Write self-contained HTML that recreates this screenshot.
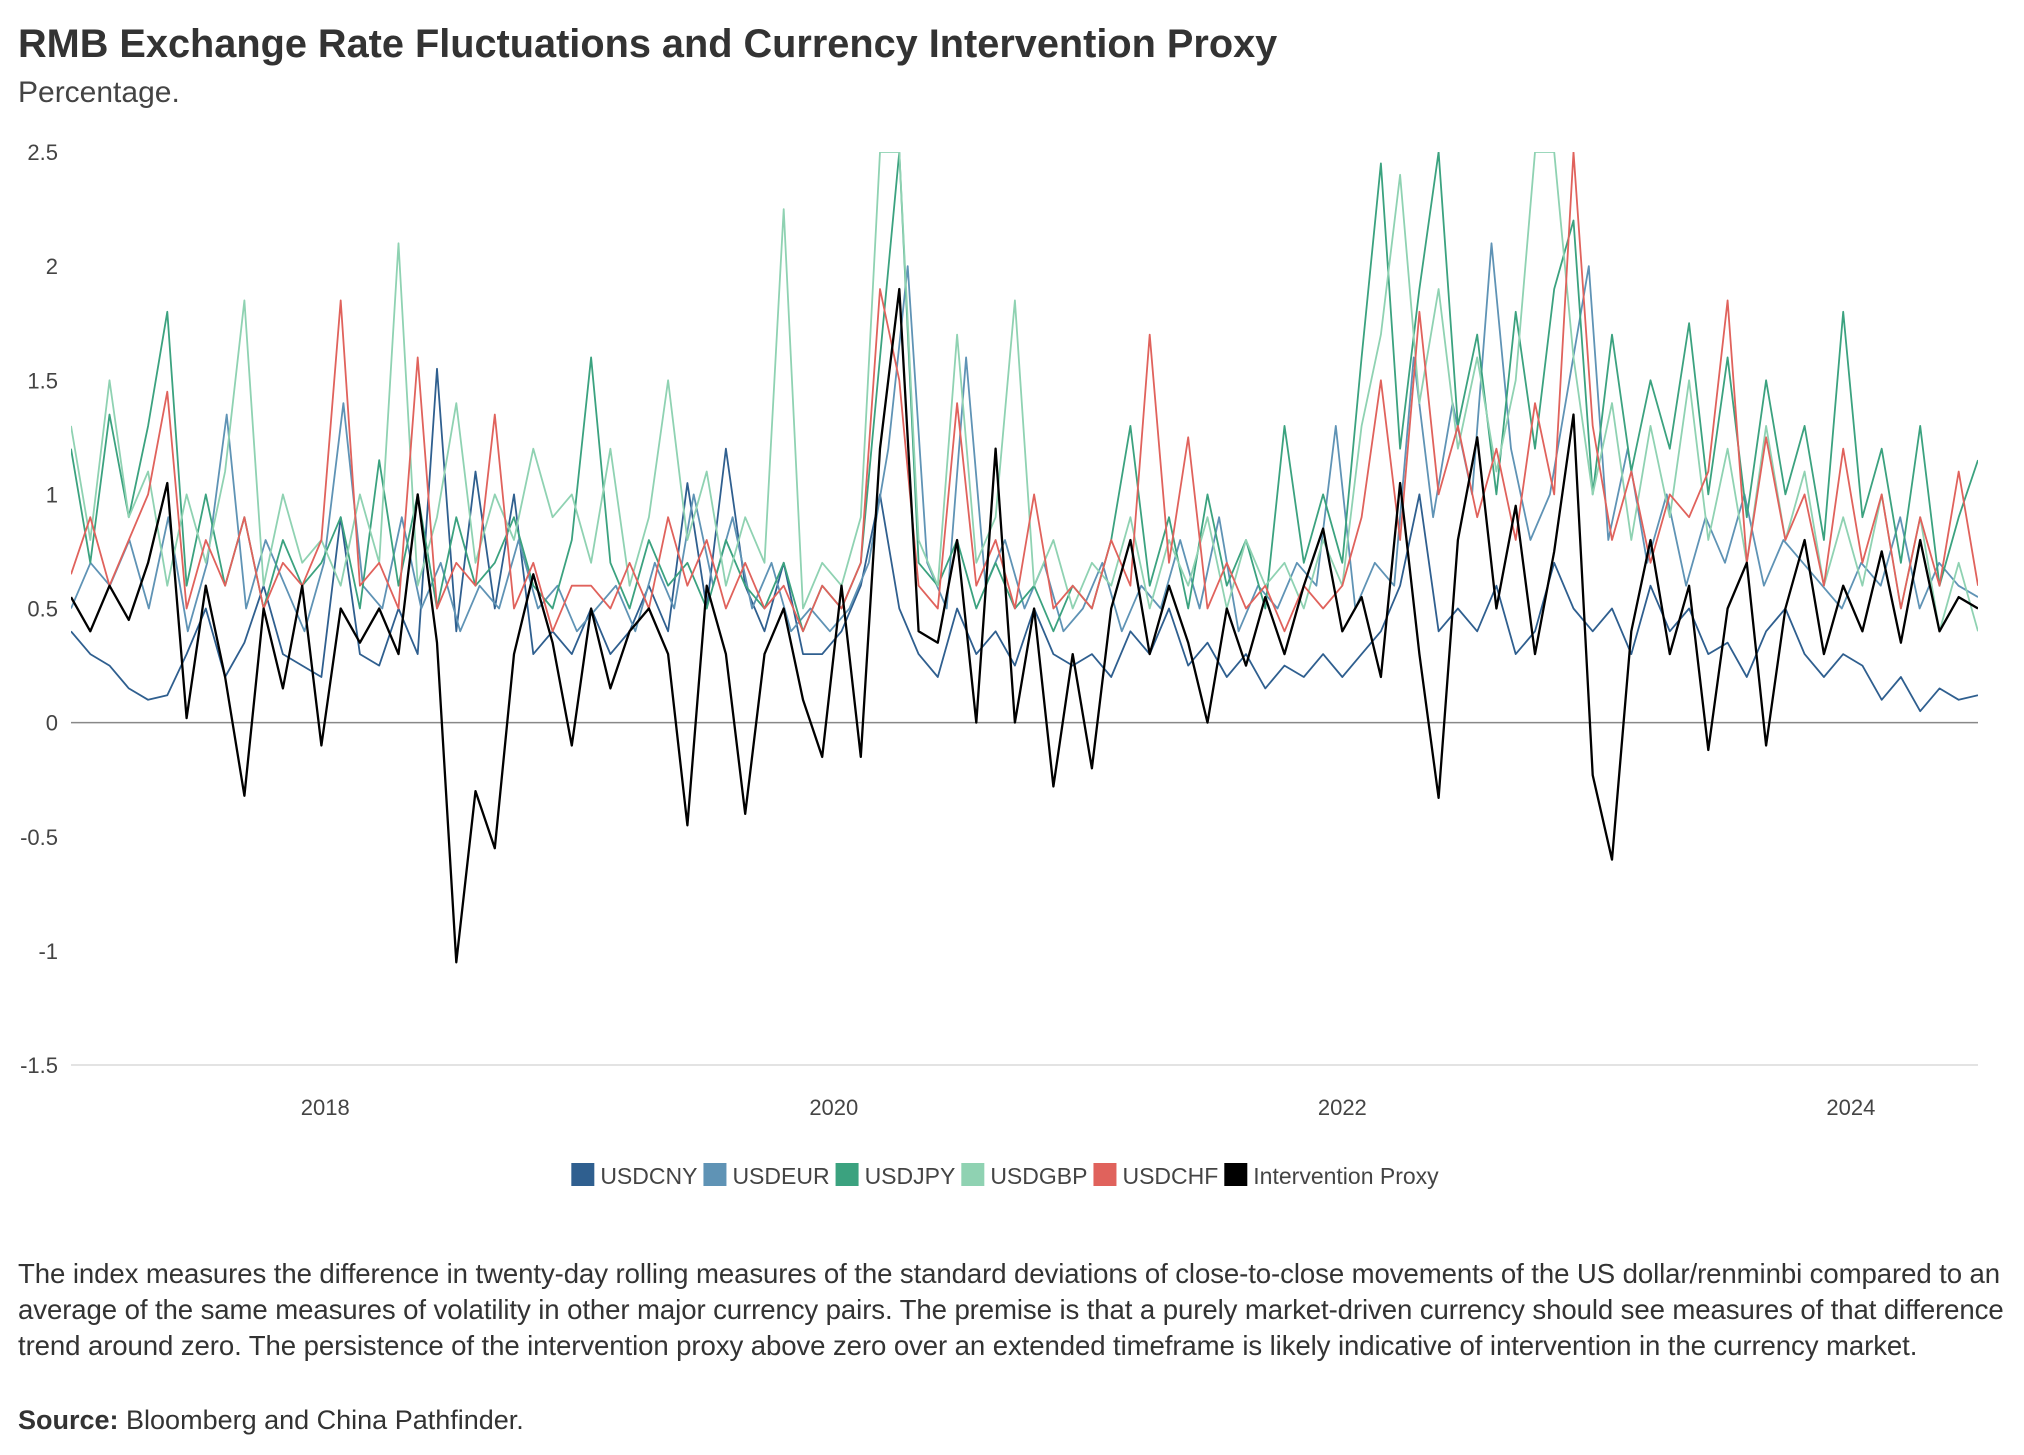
<!DOCTYPE html>
<html><head><meta charset="utf-8"><style>
body{margin:0;background:#fff;font-family:"Liberation Sans",sans-serif;color:#333}
#wrap{position:relative;width:2024px;height:1455px;overflow:hidden}
.t{position:absolute;white-space:nowrap}
</style></head><body>
<div id="wrap">
<div class="t" style="left:18px;top:22px;font-size:39.7px;font-weight:bold;color:#333">RMB Exchange Rate Fluctuations and Currency Intervention Proxy</div>
<div class="t" style="left:18px;top:76px;font-size:30px;color:#444">Percentage.</div>
<svg id="chart" width="2024" height="1455" style="position:absolute;left:0;top:0"></svg>
<div class="t" style="left:18px;top:1256px;font-size:27.6px;line-height:36px;color:#333;letter-spacing:-0.1px">The index measures the difference in twenty-day rolling measures of the standard deviations of close-to-close movements of the US dollar/renminbi compared to an<br>average of the same measures of volatility in other major currency pairs. The premise is that a purely market-driven currency should see measures of that difference<br>trend around zero. The persistence of the intervention proxy above zero over an extended timeframe is likely indicative of intervention in the currency market.</div>
<div class="t" style="left:18px;top:1405px;font-size:27px;color:#333"><b>Source:</b> Bloomberg and China Pathfinder.</div>
</div>
<script>
const yTicks=[2.5,2,1.5,1,0.5,0,-0.5,-1,-1.5];
const yTickLabels=["2.5","2","1.5","1","0.5","0","-0.5","-1","-1.5"];
const xTicks=[2018,2020,2022,2024];
const startYear=2017.0, endYear=2024.5;
const seriesNames=["USDCNY","USDEUR","USDJPY","USDGBP","USDCHF","Intervention Proxy"];
const usdcny=[0.4,0.3,0.25,0.15,0.1,0.12,0.3,0.5,0.2,0.35,0.6,0.3,0.25,
0.2,0.9,0.3,0.25,0.5,0.3,1.55,0.4,1.1,0.5,1.0,0.3,0.4,0.3,
0.5,0.3,0.4,0.6,0.4,1.05,0.5,1.2,0.6,0.4,0.7,0.3,0.3,
0.4,0.6,1.0,0.5,0.3,0.2,0.5,0.3,0.4,0.25,0.5,0.3,0.25,
0.3,0.2,0.4,0.3,0.5,0.25,0.35,0.2,0.3,0.15,0.25,0.2,0.3,
0.2,0.3,0.4,0.6,1.0,0.4,0.5,0.4,0.6,0.3,0.4,0.7,0.5,
0.4,0.5,0.3,0.6,0.4,0.5,0.3,0.35,0.2,0.4,0.5,0.3,0.2,
0.3,0.25,0.1,0.2,0.05,0.15,0.1,0.12];
const usdeur=[0.5,0.7,0.6,0.8,0.5,0.9,0.4,0.7,1.35,0.5,0.8,0.6,0.4,
0.7,1.4,0.6,0.5,0.9,0.5,0.7,0.4,0.6,0.5,0.8,0.5,0.6,0.4,
0.5,0.6,0.4,0.7,0.5,1.0,0.6,0.9,0.5,0.7,0.4,0.5,0.4,
0.5,0.7,1.2,2.0,0.7,0.5,1.6,0.6,0.8,0.5,0.7,0.4,0.5,
0.7,0.4,0.6,0.5,0.8,0.5,0.9,0.4,0.6,0.5,0.7,0.6,1.3,
0.5,0.7,0.6,1.6,0.9,1.4,1.0,2.1,1.2,0.8,1.0,1.5,2.0,
0.8,1.2,0.7,1.0,0.6,0.9,0.7,1.0,0.6,0.8,0.7,0.6,0.5,
0.7,0.6,0.9,0.5,0.7,0.6,0.55];
const usdjpy=[1.2,0.7,1.35,0.9,1.3,1.8,0.6,1.0,0.6,0.9,0.5,0.8,0.6,
0.7,0.9,0.5,1.15,0.6,1.0,0.5,0.9,0.6,0.7,0.9,0.6,0.5,0.8,
1.6,0.7,0.5,0.8,0.6,0.7,0.5,0.8,0.6,0.5,0.7,0.4,0.6,
0.5,0.7,1.6,2.5,0.7,0.6,0.8,0.5,0.7,0.5,0.6,0.4,0.6,
0.5,0.8,1.3,0.6,0.9,0.5,1.0,0.6,0.8,0.5,1.3,0.7,1.0,
0.7,1.6,2.45,1.2,1.9,2.5,1.3,1.7,1.0,1.8,1.2,1.9,2.2,
1.0,1.7,1.1,1.5,1.2,1.75,1.0,1.6,0.9,1.5,1.0,1.3,0.8,
1.8,0.9,1.2,0.7,1.3,0.6,0.9,1.15];
const usdgbp=[1.3,0.8,1.5,0.9,1.1,0.6,1.0,0.7,1.1,1.85,0.6,1.0,0.7,
0.8,0.6,1.0,0.7,2.1,0.6,0.9,1.4,0.7,1.0,0.8,1.2,0.9,1.0,
0.7,1.2,0.6,0.9,1.5,0.8,1.1,0.6,0.9,0.7,2.25,0.5,0.7,
0.6,0.9,2.5,2.5,0.8,0.6,1.7,0.7,0.9,1.85,0.6,0.8,0.5,
0.7,0.6,0.9,0.5,0.8,0.6,0.9,0.5,0.8,0.6,0.7,0.5,0.8,
0.6,1.3,1.7,2.4,1.4,1.9,1.2,1.6,1.1,1.5,2.5,2.5,1.6,
1.0,1.4,0.8,1.3,0.9,1.5,0.8,1.2,0.7,1.3,0.8,1.1,0.6,
0.9,0.6,1.0,0.5,0.9,0.4,0.7,0.4];
const usdchf=[0.65,0.9,0.6,0.8,1.0,1.45,0.5,0.8,0.6,0.9,0.5,0.7,0.6,
0.8,1.85,0.6,0.7,0.5,1.6,0.5,0.7,0.6,1.35,0.5,0.7,0.4,0.6,
0.6,0.5,0.7,0.5,0.9,0.6,0.8,0.5,0.7,0.5,0.6,0.4,0.6,
0.5,0.7,1.9,1.5,0.6,0.5,1.4,0.6,0.8,0.5,1.0,0.5,0.6,
0.5,0.8,0.6,1.7,0.7,1.25,0.5,0.7,0.5,0.6,0.4,0.6,0.5,
0.6,0.9,1.5,0.8,1.8,1.0,1.3,0.9,1.2,0.8,1.4,1.0,2.5,
1.3,0.8,1.1,0.7,1.0,0.9,1.1,1.85,0.7,1.25,0.8,1.0,0.6,
1.2,0.7,1.0,0.5,0.9,0.6,1.1,0.6];
const proxy=[0.55,0.4,0.6,0.45,0.7,1.05,0.02,0.6,0.2,-0.32,0.5,0.15,0.6,
-0.1,0.5,0.35,0.5,0.3,1.0,0.35,-1.05,-0.3,-0.55,0.3,0.65,0.35,-0.1,
0.5,0.15,0.4,0.5,0.3,-0.45,0.6,0.3,-0.4,0.3,0.5,0.1,-0.15,
0.6,-0.15,1.2,1.9,0.4,0.35,0.8,0.0,1.2,0.0,0.5,-0.28,0.3,
-0.2,0.5,0.8,0.3,0.6,0.35,0.0,0.5,0.25,0.55,0.3,0.6,0.85,
0.4,0.55,0.2,1.05,0.3,-0.33,0.8,1.25,0.5,0.95,0.3,0.75,1.35,
-0.23,-0.6,0.4,0.8,0.3,0.6,-0.12,0.5,0.7,-0.1,0.5,0.8,0.3,
0.6,0.4,0.75,0.35,0.8,0.4,0.55,0.5];
const seriesData=[usdcny,usdeur,usdjpy,usdgbp,usdchf,proxy];
const colors=["#2f5f8f","#5f93b5","#3ba27f","#8fd2b2","#e0625c","#000000"];
const widths=[1.8,1.8,1.8,1.8,1.8,2.3];

const NS="http://www.w3.org/2000/svg";
const svg=document.getElementById('chart');
const L=71,R=1978,T=152,B=1065,yMax=2.5,yMin=-1.5;
function xScale(yr){return L+(yr-startYear)/(endYear-startYear)*(R-L);}
function yScale(v){return B-(v-yMin)/(yMax-yMin)*(B-T);}
function mk(tag,attrs){const e=document.createElementNS(NS,tag);for(const k in attrs)e.setAttribute(k,attrs[k]);svg.appendChild(e);return e;}

const defs=mk('defs',{});
const cp=document.createElementNS(NS,'clipPath');cp.setAttribute('id','plotclip');
const cr=document.createElementNS(NS,'rect');cr.setAttribute('x',L);cr.setAttribute('y',T);cr.setAttribute('width',R-L);cr.setAttribute('height',B-T);
cp.appendChild(cr);defs.appendChild(cp);

yTicks.forEach((v,i)=>{
  const t=mk('text',{x:58,y:yScale(v)+8,'text-anchor':'end','font-size':22,fill:'#444','font-family':'Liberation Sans, sans-serif'});
  
  
  t.textContent=yTickLabels[i];
});
const g1=mk('line',{x1:L,x2:R,y1:yScale(-1.5),y2:yScale(-1.5),stroke:'#e3e3e3','stroke-width':2});


xTicks.forEach(yr=>{
  const t=mk('text',{x:xScale(yr),y:1115,'text-anchor':'middle','font-size':22,fill:'#444','font-family':'Liberation Sans, sans-serif'});
  
  
  t.textContent=String(yr);
});
const z=mk('line',{x1:L,x2:R,y1:yScale(0),y2:yScale(0),stroke:'#888','stroke-width':1.6});



const g=mk('g',{'clip-path':'url(#plotclip)'});
seriesData.forEach((arr,si)=>{
  const n=arr.length;
  const d=arr.map((v,i)=>{const yr=startYear+i*(endYear-startYear)/(n-1);return (i?'L':'M')+xScale(yr).toFixed(1)+','+yScale(v).toFixed(1);}).join('');
  const p=document.createElementNS(NS,'path');
  p.setAttribute('d',d);p.setAttribute('fill','none');p.setAttribute('stroke',colors[si]);
  p.setAttribute('stroke-width',widths[si]);p.setAttribute('stroke-linejoin','round');
  
  
  g.appendChild(p);
});

// legend
const legendY=1175;
const items=[];
let total=0;
seriesNames.forEach((s,i)=>{
  const r=mk('rect',{x:0,y:legendY-12,width:23,height:23,fill:colors[i]});
  
  
  const t=mk('text',{x:0,y:legendY+9,'font-size':23,fill:'#444','font-family':'Liberation Sans, sans-serif'});
  
  
  t.textContent=s;
  const w=29+t.getComputedTextLength()+6;
  items.push([r,t,w]);total+=w;
});
let lx=1008-total/2;
items.forEach(([r,t,w])=>{r.setAttribute('x',lx);t.setAttribute('x',lx+29);lx+=w;});
</script>
</body></html>
